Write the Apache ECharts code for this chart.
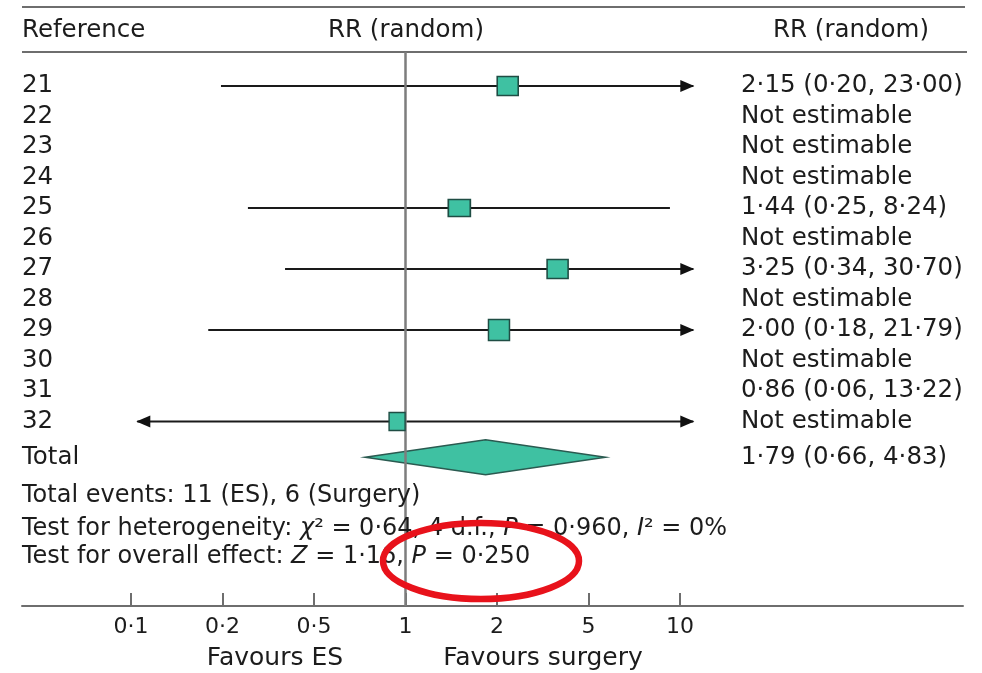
<!DOCTYPE html>
<html><head><meta charset="utf-8">
<script src="https://cdn.jsdelivr.net/npm/echarts@6/dist/echarts.min.js"></script>
<style>html,body{margin:0;padding:0;background:#fff}#chart{width:982px;height:673px}</style>
</head><body><div id="chart"></div>
<script>
// ---- data ----
const studies = ['21','22','23','24','25','26','27','28','29','30','31','32'];
const studyResults = ['2·15 (0·20, 23·00)','Not estimable','Not estimable','Not estimable',
  '1·44 (0·25, 8·24)','Not estimable','3·25 (0·34, 30·70)','Not estimable',
  '2·00 (0·18, 21·79)','Not estimable','0·86 (0·06, 13·22)','Not estimable'];
const totalName = 'Total';
const totalResult = '1·79 (0·66, 4·83)';
// plotted estimates (row on which each mark appears in the figure)
const plottedStudies = ['21','25','27','29','32'];
const rrValues = [2.15, 1.44, 3.25, 2.00, 0.86];
const ciLower = [0.20, 0.25, 0.34, 0.18, 0.06];
const ciUpper = [23.00, 8.24, 30.70, 21.79, 13.22];
const pooled = [0.66, 1.79, 4.83]; // lower, estimate, upper
const tickLabels = ['0·1','0·2','0·5','1','2','5','10'];
const plotLimits = [0.1, 10];
const headerTexts = ['Reference','RR (random)','RR (random)'];
const favourLabels = ['Favours ES','Favours surgery'];
const footerLines = [
  '{n|Total events: 11 (ES), 6 (Surgery)}',
  '{n|Test for heterogeneity: }{i|χ}{n|² = 0·64, 4 d.f., }{i|P}{n| = 0·960, }{i|I}{n|² = 0%}',
  '{n|Test for overall effect: }{i|Z}{n| = 1·16, }{i|P}{n| = 0·250}'
];

// ---- styles / layout ----
const markerSizes = [[21,19],[22,17],[21,19],[21,21],[16,18]];
const FONT = 'DejaVu Sans';
const TXT = '#1c1c1c';
const TEAL = '#3fc1a2';
const ROW0 = 86, ROWH = 30.5, GTOP = 52, GBOT = 606;
const TOTAL_ROW = 12.17;
const rowOf = s => studies.indexOf(s);

const chart = echarts.init(document.getElementById('chart'));

function txt(x, y, text, size, align, extra) {
  return Object.assign({
    type: 'text', z: 10,
    style: { x, y, text, fill: TXT, fontFamily: FONT, fontSize: size,
      align: align, textAlign: align, verticalAlign: 'middle', textVerticalAlign: 'middle' }
  }, extra || {});
}

const graphics = [
  { type: 'line', shape: { x1: 22, y1: 7, x2: 965, y2: 7 }, style: { stroke: '#6e6e6e', lineWidth: 2 } },
  { type: 'line', shape: { x1: 22, y1: 52, x2: 967, y2: 52 }, style: { stroke: '#6e6e6e', lineWidth: 2 } },
  txt(22, 31, headerTexts[0], 24.5, 'left'),
  txt(406, 31, headerTexts[1], 24.5, 'center'),
  txt(851, 31, headerTexts[2], 24.5, 'center'),
  txt(275, 658, favourLabels[0], 25, 'center'),
  txt(543, 658, favourLabels[1], 25, 'center')
];
const footerY = [496, 529, 557];
footerLines.forEach((t, i) => {
  graphics.push({
    type: 'text', z: 10,
    style: {
      x: 22, y: footerY[i], text: t, align: 'left', textAlign: 'left',
      verticalAlign: 'middle', textVerticalAlign: 'middle',
      rich: {
        n: { fontFamily: FONT, fontSize: 24, fill: TXT, color: TXT },
        i: { fontFamily: FONT, fontSize: 24, fontStyle: 'italic', fill: TXT, color: TXT }
      }
    }
  });
});
graphics.push({
  type: 'ellipse', z: 100,
  shape: { cx: 481, cy: 561, rx: 98, ry: 38 },
  style: { fill: 'none', stroke: '#e8121b', lineWidth: 6.5 }
});

// table rows (text)
const tableData = studies.map((s, i) => [1, i, s, studyResults[i]]);
tableData.push([1, TOTAL_ROW, totalName, totalResult]);

const option = {
  animation: false,
  backgroundColor: '#fff',
  grid: [
    { left: 22, right: 982 - 963, top: GTOP, bottom: 673 - GBOT },
    { left: 131, right: 982 - 680, top: GTOP, bottom: 673 - GBOT }
  ],
  xAxis: [
    { type: 'log', logBase: 10, gridIndex: 0, position: 'bottom',
      min: Math.pow(10, -1.4147), max: Math.pow(10, 1.9701),
      axisLine: { show: true, onZero: false, lineStyle: { color: '#6e6e6e', width: 2 } },
      axisTick: { show: false }, axisLabel: { show: false }, splitLine: { show: false } },
    { type: 'value', gridIndex: 1, min: 0, max: tickLabels.length - 1, interval: 1, position: 'bottom',
      axisLine: { show: false, onZero: false },
      axisTick: { show: true, inside: true, length: 13, lineStyle: { color: '#6e6e6e', width: 2 } },
      axisLabel: { show: true, margin: 10, fontFamily: FONT, fontSize: 22, color: TXT,
        formatter: v => tickLabels[Math.round(v)] },
      splitLine: { show: false } }
  ],
  yAxis: [
    { type: 'value', gridIndex: 0, inverse: true,
      min: (GTOP - ROW0) / ROWH, max: (GBOT - ROW0) / ROWH,
      show: false },
    { type: 'value', gridIndex: 1, min: 0, max: 1, show: false }
  ],
  graphic: graphics,
  series: [
    { // reference line at RR = 1 on the tick axis
      type: 'scatter', xAxisIndex: 1, yAxisIndex: 1, data: [], z: 4, silent: true,
      markLine: { silent: true, symbol: 'none', label: { show: false },
        lineStyle: { color: '#7d7d7d', width: 2.5, type: 'solid' },
        data: [{ xAxis: 3 }] }
    },
    { // confidence intervals
      type: 'custom', xAxisIndex: 0, yAxisIndex: 0, z: 3, silent: true,
      data: plottedStudies.map((s, i) => [ciLower[i], ciUpper[i], rowOf(s)]),
      encode: { x: [0, 1], y: 2 },
      renderItem: (params, api) => {
        const lo = api.value(0), hi = api.value(1), r = api.value(2);
        const a = api.coord([Math.max(lo, plotLimits[0]), r]);
        const b = api.coord([Math.min(hi, plotLimits[1]), r]);
        const ch = [{ type: 'line', shape: { x1: a[0], y1: a[1], x2: b[0], y2: b[1] },
          style: { stroke: '#1a1a1a', lineWidth: 2 } }];
        if (hi > plotLimits[1]) ch.push({ type: 'polygon',
          shape: { points: [[b[0] + 1, b[1]], [b[0] - 13, b[1] - 6], [b[0] - 13, b[1] + 6]] },
          style: { fill: '#111' } });
        if (lo < plotLimits[0]) ch.push({ type: 'polygon',
          shape: { points: [[a[0] - 1, a[1]], [a[0] + 13, a[1] - 6], [a[0] + 13, a[1] + 6]] },
          style: { fill: '#111' } });
        return { type: 'group', children: ch };
      }
    },
    { // point estimates
      type: 'scatter', xAxisIndex: 0, yAxisIndex: 0, z: 5, silent: true,
      symbol: 'rect',
      data: plottedStudies.map((s, i) => ({ value: [rrValues[i], rowOf(s)], symbolSize: markerSizes[i] })),
      itemStyle: { color: TEAL, borderColor: '#1f4d44', borderWidth: 1.5, opacity: 1 }
    },
    { // pooled diamond
      type: 'custom', xAxisIndex: 0, yAxisIndex: 0, z: 2, silent: true,
      data: [[pooled[0], pooled[1], pooled[2], TOTAL_ROW]],
      encode: { x: [0, 1, 2], y: 3 },
      renderItem: (params, api) => {
        const r = api.value(3);
        const l = api.coord([api.value(0), r]);
        const c = api.coord([api.value(1), r]);
        const u = api.coord([api.value(2), r]);
        const h = 17.5;
        return { type: 'polygon',
          shape: { points: [[l[0], l[1]], [c[0], c[1] - h], [u[0], u[1]], [c[0], c[1] + h]] },
          style: { fill: TEAL, stroke: '#2a5a50', lineWidth: 1.5 } };
      }
    },
    { // table text
      type: 'custom', xAxisIndex: 0, yAxisIndex: 0, z: 6, silent: true,
      data: tableData.map(d => [d[0], d[1]]),
      encode: { x: 0, y: 1 },
      renderItem: (params, api) => {
        const y = api.coord([1, api.value(1)])[1];
        const row = tableData[params.dataIndex];
        const mk = (x, t) => ({ type: 'text', style: { x, y, text: t, fill: TXT,
          fontFamily: FONT, fontSize: 24.5, align: 'left', textAlign: 'left',
          verticalAlign: 'middle', textVerticalAlign: 'middle' } });
        return { type: 'group', children: [mk(22, row[2]), mk(741, row[3])] };
      }
    }
  ]
};
chart.setOption(option);
</script></body></html>
